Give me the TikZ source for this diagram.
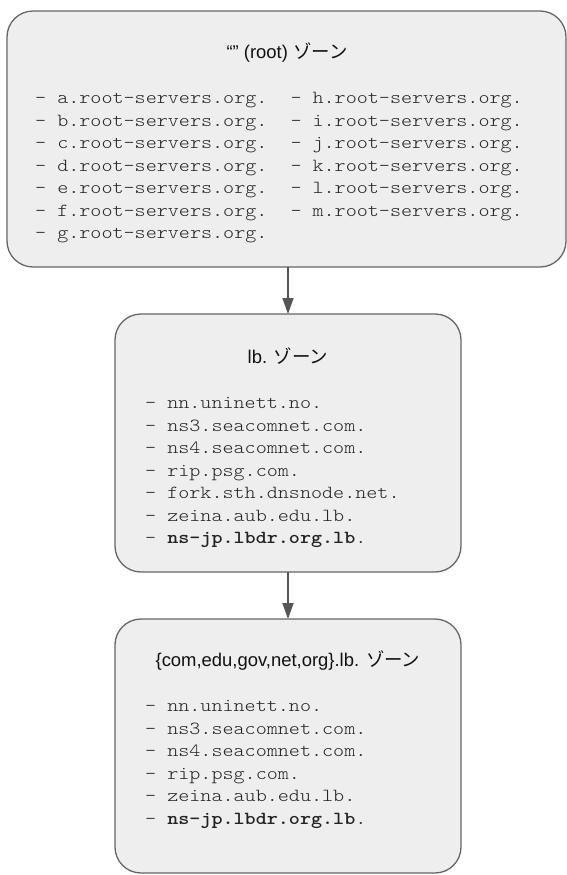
\documentclass[tikz,border=0pt]{standalone}
\usepackage{fontspec}
\setmainfont{Liberation Sans}
\setsansfont{Liberation Sans}
\setmonofont[Extension=.otf, UprightFont=lmmonolt10-regular, BoldFont=lmmonolt10-bold, FakeStretch=1.143]{lmmonolt10}
\newfontfamily\jpfont{Noto Sans CJK JP}
\usetikzlibrary{arrows.meta}
\definecolor{zonefill}{HTML}{EEEEEE}
\definecolor{zoneline}{HTML}{666666}
\definecolor{listtext}{HTML}{222222}
\definecolor{titletext}{HTML}{111111}
\definecolor{arrowcol}{HTML}{555555}
\begin{document}
\begin{tikzpicture}[x=1bp,y=-1bp,
  zone/.style={draw=zoneline, fill=zonefill, line width=1.3bp, rounded corners=26bp, inner sep=0pt, outer sep=0pt},
  ztitle/.style={anchor=base, inner sep=0pt, font=\sffamily\fontsize{18.5}{22}\selectfont, text=titletext},
  zitem/.style={anchor=base west, inner sep=0pt, font=\ttfamily\fontsize{18.5}{22}\selectfont, text=listtext},
  arr/.style={draw=arrowcol, line width=1.5bp, -{Triangle[length=16bp,width=11bp]}}
]
\fill[white] (0,0) rectangle (567,875);
\useasboundingbox (0,0) rectangle (567,875);

% zones
\node[zone, minimum width=559bp, minimum height=256bp] (z1) at (286.5,139) {};
\node[zone, minimum width=346bp, minimum height=258bp] (z2) at (288,443) {};
\node[zone, minimum width=346bp, minimum height=254bp] (z3) at (288,746) {};

% titles
\node[ztitle] (t1) at (287,58) {“” (root) {\jpfont ゾーン}};
\node[ztitle] (t2) at (288,363) {lb. {\jpfont ゾーン}};
\node[ztitle] (t3) at (288,666) {\{com,edu,gov,net,org\}.lb. {\jpfont ゾーン}};

% root servers
\foreach [count=\i] \t in {a,b,c,d,e,f,g}
  \node[zitem] (ra\i) at (35,{103.5+22.5*(\i-1)}) {- \t.root-servers.org.};
\foreach [count=\i] \t in {h,i,j,k,l,m}
  \node[zitem] (rb\i) at (290.3,{103.5+22.5*(\i-1)}) {- \t.root-servers.org.};

% lb. servers
\foreach [count=\i] \t in {nn.uninett.no.,ns3.seacomnet.com.,ns4.seacomnet.com.,rip.psg.com.,fork.sth.dnsnode.net.,zeina.aub.edu.lb.,{\textbf{ns-jp.lbdr.org.lb}.}}
  \node[zitem] (lb\i) at (145,{408.5+22.5*(\i-1)}) {- \t};

% {com,...}.lb. servers
\foreach [count=\i] \t in {nn.uninett.no.,ns3.seacomnet.com.,ns4.seacomnet.com.,rip.psg.com.,zeina.aub.edu.lb.,{\textbf{ns-jp.lbdr.org.lb}.}}
  \node[zitem] (sl\i) at (145,{711.5+22.5*(\i-1)}) {- \t};

% connectors
\draw[arr] (z1.south -| z2.north) -- (z2.north);
\draw[arr] (z2.south) -- (z3.north);
\end{tikzpicture}
\end{document}
